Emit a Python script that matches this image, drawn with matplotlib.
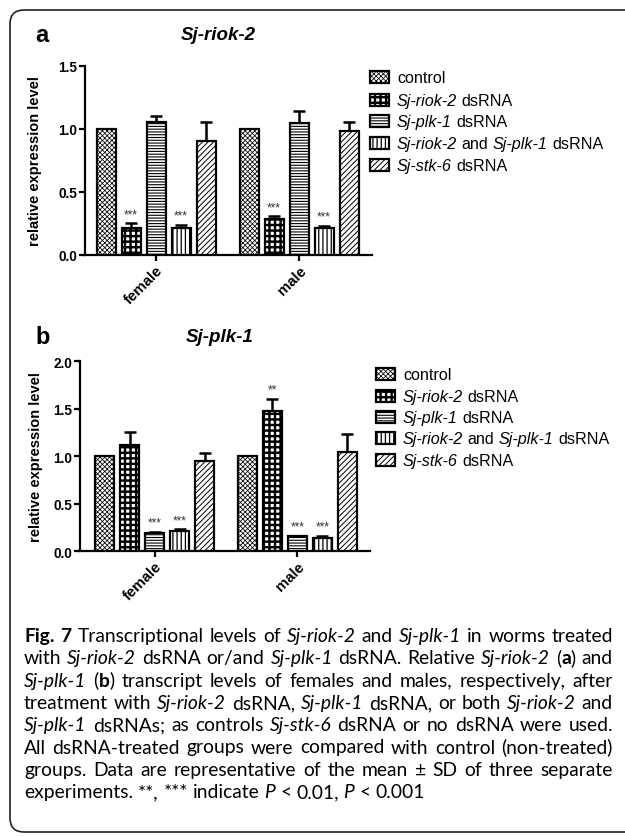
import numpy as np
import matplotlib
matplotlib.use('Agg')
import matplotlib.pyplot as plt
from matplotlib.patches import Rectangle, FancyBboxPatch

plt.rcParams['font.family'] = ['Liberation Sans', 'DejaVu Sans']
plt.rcParams['hatch.linewidth'] = 0.8

# data
groups = ['female', 'male']
n_series = 5
legend_runs = [
    [('control', 'r')],
    [('Sj-riok-2', 'i'), (' dsRNA', 'r')],
    [('Sj-plk-1', 'i'), (' dsRNA', 'r')],
    [('Sj-riok-2', 'i'), (' and ', 'r'), ('Sj-plk-1', 'i'), (' dsRNA', 'r')],
    [('Sj-stk-6', 'i'), (' dsRNA', 'r')],
]

riok_female = [1.00, 0.215, 1.05, 0.215, 0.90]
riok_female_sd = [0.0, 0.035, 0.05, 0.02, 0.15]
riok_male = [1.00, 0.285, 1.045, 0.215, 0.985]
riok_male_sd = [0.0, 0.02, 0.095, 0.015, 0.065]
riok_stars_female = ['', '***', '', '***', '']
riok_stars_male = ['', '***', '', '***', '']

plk_female = [1.00, 1.12, 0.19, 0.21, 0.955]
plk_female_sd = [0.0, 0.14, 0.01, 0.02, 0.085]
plk_male = [1.00, 1.48, 0.16, 0.14, 1.05]
plk_male_sd = [0.0, 0.12, 0.005, 0.025, 0.185]
plk_stars_female = ['', '', '***', '***', '']
plk_stars_male = ['', '**', '***', '***', '']

caption = [
    [('Fig. 7', 'b'), (' Transcriptional levels of ', 'r'), ('Sj-riok-2', 'i'), (' and ', 'r'),
     ('Sj-plk-1', 'i'), (' in worms treated', 'r')],
    [('with ', 'r'), ('Sj-riok-2', 'i'), (' dsRNA or/and ', 'r'), ('Sj-plk-1', 'i'),
     (' dsRNA. Relative ', 'r'), ('Sj-riok-2', 'i'), (' (', 'r'), ('a', 'b'), (') and', 'r')],
    [('Sj-plk-1', 'i'), (' (', 'r'), ('b', 'b'), (') transcript levels of females and males, respectively, after', 'r')],
    [('treatment with ', 'r'), ('Sj-riok-2', 'i'), (' dsRNA, ', 'r'), ('Sj-plk-1', 'i'),
     (' dsRNA, or both ', 'r'), ('Sj-riok-2', 'i'), (' and', 'r')],
    [('Sj-plk-1', 'i'), (' dsRNAs; as controls ', 'r'), ('Sj-stk-6', 'i'), (' dsRNA or no dsRNA were used.', 'r')],
    [('All dsRNA-treated groups were compared with control (non-treated)', 'r')],
    [('groups. Data are representative of the mean \u00b1 SD of three separate', 'r')],
    [('experiments. **, *** indicate ', 'r'), ('P', 'i'), (' < 0.01, ', 'r'), ('P', 'i'), (' < 0.001', 'r')],
]

hatches = ['xxxxxxx', '+++', '------', '||||', '//////']
hatch_lw = [0.55, 1.7, 0.8, 0.9, 0.7]
styles = {'r': {}, 'i': {'style': 'italic'}, 'b': {'weight': 'bold'}}
cap_font = ['Lato', 'Open Sans', 'DejaVu Sans']

fig = plt.figure(figsize=(6.25, 8.37), dpi=100)
bg = fig.add_axes([0, 0, 1, 1])
bg.set_xlim(0, 625)
bg.set_ylim(837, 0)
bg.axis('off')
renderer = fig.canvas.get_renderer()

bg.add_patch(FancyBboxPatch((10, 11), 700, 822, boxstyle='round,pad=0,rounding_size=14',
                            facecolor='none', edgecolor='#222222', lw=1.2))


def set_hlw(p, lw):
    if hasattr(p, 'set_hatch_linewidth'):
        p.set_hatch_linewidth(lw)


def draw_panel(ax, fem, fem_sd, mal, mal_sd, st_f, st_m, ymax, xlim, pitch, width):
    x0 = np.arange(len(groups))
    for i in range(n_series):
        x = x0 + (i - 2) * pitch
        vals = np.array([fem[i], mal[i]])
        sd = np.array([fem_sd[i], mal_sd[i]])
        bars = ax.bar(x, vals, width, facecolor='white', edgecolor='black',
                      hatch=hatches[i], lw=1.6, zorder=3)
        for b in bars:
            set_hlw(b, hatch_lw[i])
        m = sd > 0
        if m.any():
            ax.errorbar(x[m], vals[m], yerr=[np.zeros(m.sum()), sd[m]], fmt='none',
                        ecolor='black', elinewidth=1.8, capsize=4.3, capthick=1.8, zorder=2)
        for xx, v, s, star in zip(x, vals, sd, [st_f[i], st_m[i]]):
            if star:
                ax.annotate(star, (xx, v + s), xytext=(0, 2.5), textcoords='offset points',
                            ha='center', va='bottom', fontsize=8.5, color='#333333')
    ax.set_xlim(*xlim)
    ax.set_ylim(0, ymax)
    ticks = np.arange(0, ymax + 0.01, 0.5)
    ax.set_yticks(ticks)
    ax.set_yticklabels(['%.1f' % t for t in ticks], fontweight='bold', fontsize=9.8)
    ax.set_xticks(x0)
    ax.set_xticklabels(groups, rotation=45, ha='right', va='top', rotation_mode='anchor',
                       fontweight='bold', fontsize=10.8)
    for s in ['top', 'right']:
        ax.spines[s].set_visible(False)
    for s in ['left', 'bottom']:
        ax.spines[s].set_linewidth(1.6)
    ax.tick_params(direction='out', length=4, width=1.6, pad=1.5)
    ax.set_ylabel('relative expression level', fontweight='bold', fontsize=10.5)
    ax.set_facecolor('none')


def draw_runs(y, x0, runs, size, family, target=None):
    items = []
    for text, st in runs:
        parts = text.split(' ')
        for k, part in enumerate(parts):
            if k > 0:
                items.append(None)
            if part:
                items.append((part, st))
    arts, widths = [], []
    for it in items:
        if it is None:
            continue
        t = bg.text(0, y, it[0], fontsize=size, family=family, ha='left', va='baseline', **styles[it[1]])
        arts.append(t)
        widths.append(t.get_window_extent(renderer).width)
    probe1 = bg.text(0, 0, 'a a', fontsize=size, family=family)
    probe2 = bg.text(0, 0, 'aa', fontsize=size, family=family)
    sp = probe1.get_window_extent(renderer).width - probe2.get_window_extent(renderer).width
    probe1.remove()
    probe2.remove()
    n_sp = items.count(None)
    natural = sum(widths) + n_sp * sp
    gap = sp
    if target is not None and n_sp:
        gap = (target - sum(widths)) / n_sp
    x = x0
    j = 0
    for it in items:
        if it is None:
            x += gap
        else:
            arts[j].set_x(x)
            x += widths[j]
            j += 1
    return arts, natural


# panel a
ax_a = fig.add_axes([85 / 625, 1 - 256 / 837, 287 / 625, 189.5 / 837])
draw_panel(ax_a, riok_female, riok_female_sd, riok_male, riok_male_sd,
           riok_stars_female, riok_stars_male, 1.5, (-0.4965, 1.51), 0.1748, 0.133)
ax_a.yaxis.set_label_coords(-0.151, 0.5)
bg.text(35, 35, 'a', fontsize=17, weight='bold', ha='left', va='center')
bg.text(218, 35, 'Sj-riok-2', fontsize=13.5, weight='bold', style='italic', ha='center', va='center')

# panel b
ax_b = fig.add_axes([80 / 625, 1 - 552.3 / 837, 290 / 625, 190 / 837])
draw_panel(ax_b, plk_female, plk_female_sd, plk_male, plk_male_sd,
           plk_stars_female, plk_stars_male, 2.0, (-0.527, 1.511), 0.1757, 0.1335)
ax_b.yaxis.set_label_coords(-0.127, 0.5)
bg.text(35, 337, 'b', fontsize=17, weight='bold', ha='left', va='center')
bg.text(220, 337, 'Sj-plk-1', fontsize=13.5, weight='bold', style='italic', ha='center', va='center')

# legends
for (px, tx, ys) in [(370, 397, [78, 100.5, 122, 144, 166]), (376, 403, [375, 396.7, 418.3, 439, 461])]:
    for i, y in enumerate(ys):
        r = Rectangle((px, y - 6), 19, 12, facecolor='white', edgecolor='black', lw=1.6,
                      hatch=hatches[i])
        set_hlw(r, hatch_lw[i])
        bg.add_patch(r)
        draw_runs(y + 5, tx, legend_runs[i], 11.6, ['Liberation Sans', 'DejaVu Sans'])

# caption, justified
left, right = 24, 613
probe_size = 12
nat = []
for line in caption[:-1]:
    arts, w = draw_runs(0, 0, line, probe_size, cap_font)
    for a in arts:
        a.remove()
    nat.append(w)
cap_size = probe_size * (right - left) * 0.985 / max(nat)
for k, line in enumerate(caption):
    y = 642 + k * 22.3
    draw_runs(y, left, line, cap_size, cap_font,
              target=(right - left) if k < len(caption) - 1 else None)

fig.savefig('out.png', dpi=100)
